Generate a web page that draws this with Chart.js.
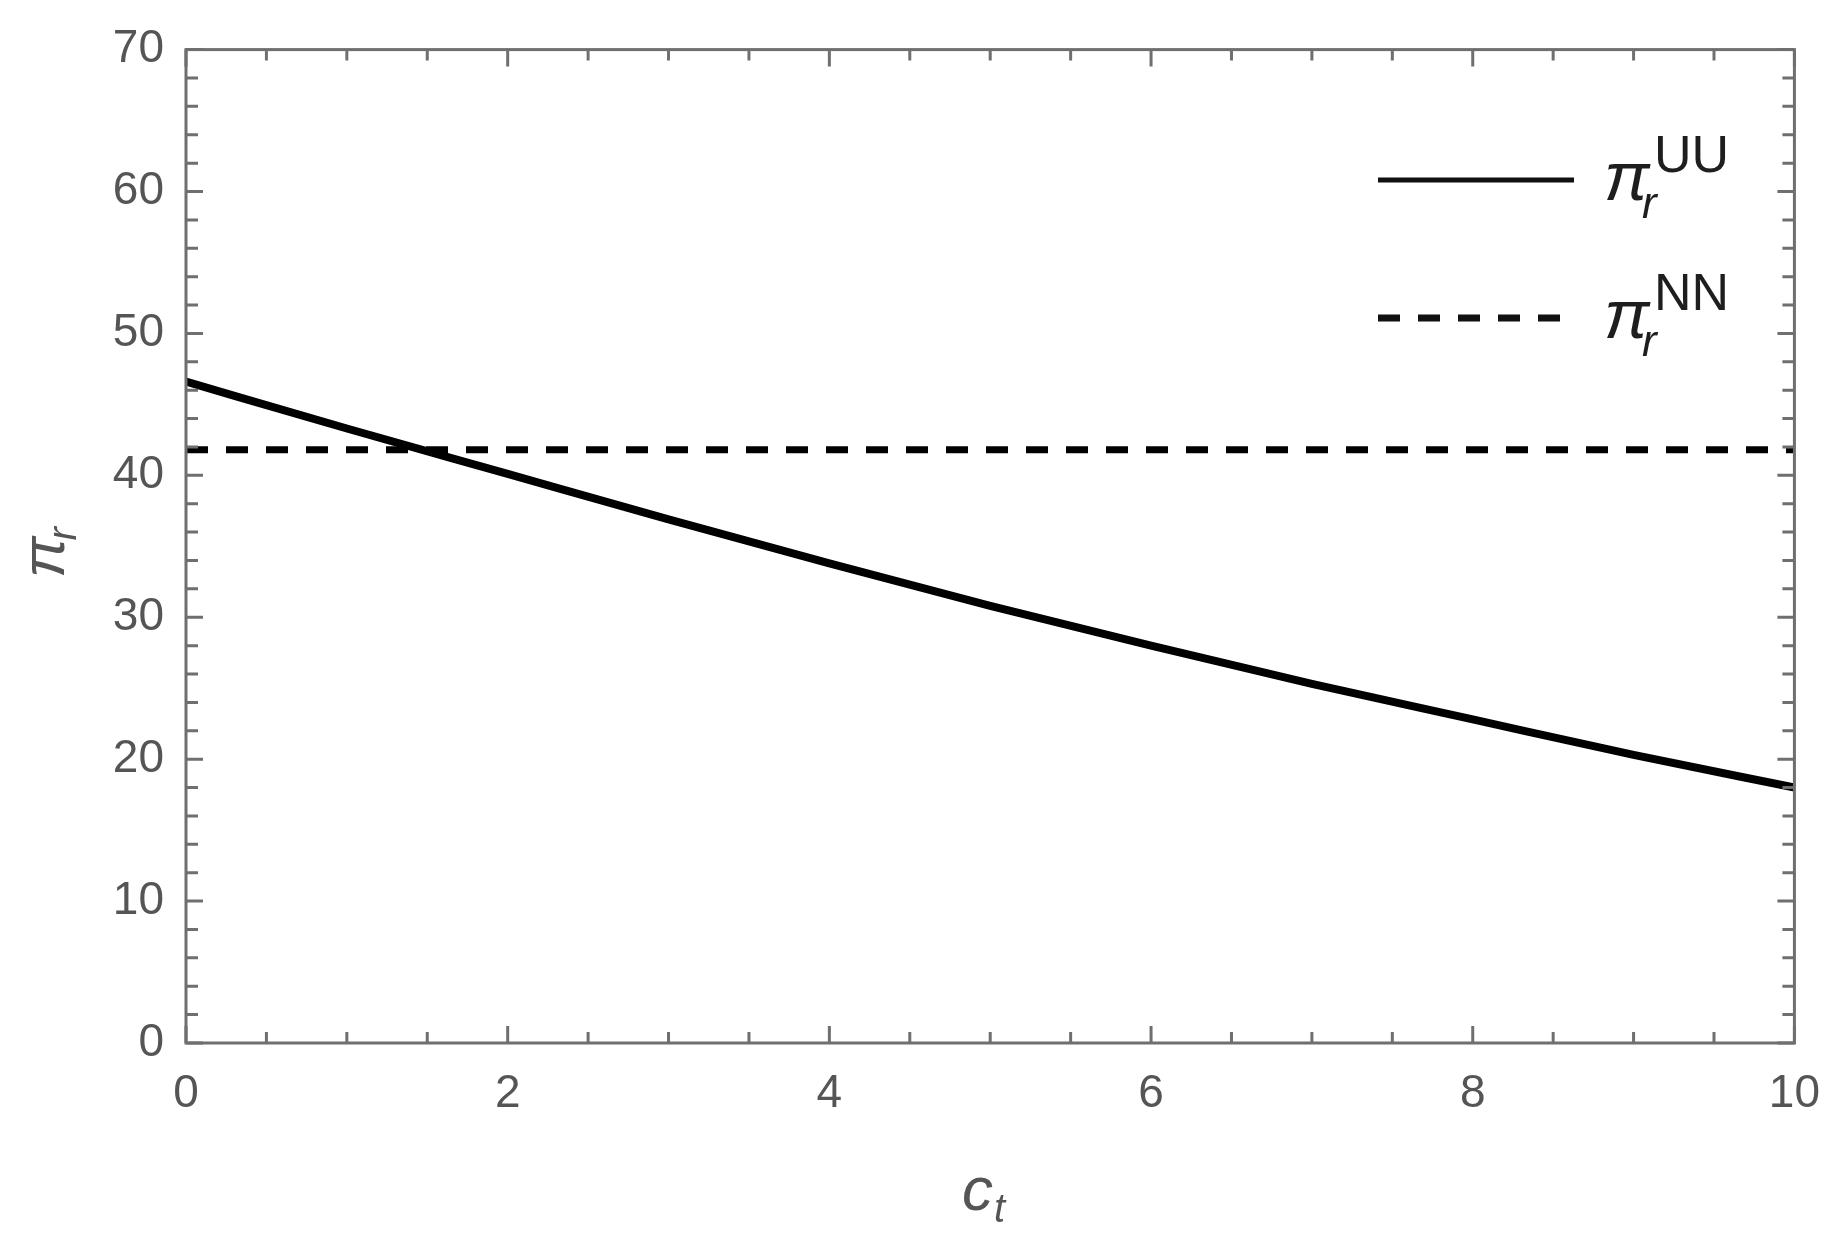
<!DOCTYPE html>
<html>
<head>
<meta charset="utf-8">
<title>pi_r vs c_t</title>
<script src="https://cdn.jsdelivr.net/npm/chart.js@4.4.1/dist/chart.umd.min.js"></script>
<style>
  html, body { margin: 0; padding: 0; background: #ffffff; }
  #wrap { width: 1844px; height: 1244px; }
</style>
</head>
<body>
<div id="wrap"><canvas id="chart" width="1844" height="1244"></canvas></div>
<script>
// Values
const ctValues = [0, 1, 2, 3, 4, 5, 6, 7, 8, 9, 10];
const piUU = [46.6, 43.3, 40.1, 36.9, 33.8, 30.8, 28.0, 25.3, 22.8, 20.3, 18.0];
const ctNN = [0, 10];
const piNN = [41.8, 41.8];
const xTicks = [0, 2, 4, 6, 8, 10];
const yTicks = [0, 10, 20, 30, 40, 50, 60, 70];

const FONT = '"Liberation Sans", Arial, sans-serif';
const TEXT = '#555555';
const FRAME = '#6f6f6f';

// Mathematica-style frame with inward ticks on all four sides
const frameTicks = {
    id: 'frameTicks',
    afterDraw(chart) {
        const { ctx, chartArea: a, scales: { x, y } } = chart;
        ctx.save();
        ctx.strokeStyle = FRAME;
        ctx.lineWidth = 3;
        ctx.strokeRect(a.left, a.top, a.right - a.left, a.bottom - a.top);
        ctx.beginPath();
        for (let i = 0; i <= 20; i++) {
            const v = i * 0.5;
            const px = x.getPixelForValue(v);
            const len = v % 2 === 0 ? 17 : 11;
            ctx.moveTo(px, a.bottom); ctx.lineTo(px, a.bottom - len);
            ctx.moveTo(px, a.top); ctx.lineTo(px, a.top + len);
        }
        for (let v = 0; v <= 70; v += 2) {
            const py = y.getPixelForValue(v);
            const len = v % 10 === 0 ? 17 : 12;
            ctx.moveTo(a.left, py); ctx.lineTo(a.left + len, py);
            ctx.moveTo(a.right, py); ctx.lineTo(a.right - len, py);
        }
        ctx.stroke();
        ctx.restore();
    }
};

// axis titles and legend with sub/superscripts
const mathText = {
    id: 'mathText',
    afterDraw(chart) {
        const { ctx } = chart;
        ctx.save();
        ctx.fillStyle = TEXT;
        ctx.textBaseline = 'alphabetic';

        // x title: c_t
        ctx.font = 'italic 62px ' + FONT;
        ctx.fillText('c', 962, 1210);
        ctx.font = 'italic 40px ' + FONT;
        ctx.fillText('t', 994, 1222);

        // y title: pi_r (rotated)
        ctx.translate(64, 578);
        ctx.rotate(-Math.PI / 2);
        ctx.font = 'italic 62px ' + FONT;
        ctx.fillText('\u03c0', 0, 0);
        const w = ctx.measureText('\u03c0').width;
        ctx.font = 'italic 40px ' + FONT;
        ctx.fillText('r', w - 4, 12);
        ctx.restore();

        // legend
        const entries = [
            { ds: chart.data.datasets[0], sup: 'UU', y: 180 },
            { ds: chart.data.datasets[1], sup: 'NN', y: 318 }
        ];
        ctx.save();
        entries.forEach(e => {
            ctx.strokeStyle = '#111111';
            ctx.lineWidth = e.ds.borderDash ? 7 : 5;
            ctx.setLineDash(e.ds.borderDash || []);
            ctx.beginPath();
            ctx.moveTo(1378, e.y);
            ctx.lineTo(1574, e.y);
            ctx.stroke();
            ctx.setLineDash([]);
            ctx.fillStyle = '#1e1e1e';
            ctx.font = 'italic 68px ' + FONT;
            ctx.fillText('\u03c0', 1604, e.y + 20);
            ctx.font = 'italic 44px ' + FONT;
            ctx.fillText('r', 1642, e.y + 38);
            ctx.font = '52px ' + FONT;
            ctx.fillText(e.sup, 1654, e.y - 8);
        });
        ctx.restore();
    }
};

new Chart(document.getElementById('chart').getContext('2d'), {
    type: 'line',
    data: {
        datasets: [
            {
                label: '\u03c0r UU',
                data: ctValues.map((c, i) => ({ x: c, y: piUU[i] })),
                borderColor: '#000000',
                borderWidth: 8,
                pointRadius: 0,
                cubicInterpolationMode: 'monotone',
                fill: false
            },
            {
                label: '\u03c0r NN',
                data: ctNN.map((c, i) => ({ x: c, y: piNN[i] })),
                borderColor: '#000000',
                borderWidth: 7,
                borderDash: [22, 18],
                pointRadius: 0,
                fill: false
            }
        ]
    },
    options: {
        responsive: false,
        devicePixelRatio: 1,
        animation: false,
        layout: { padding: { left: 0, top: 45, right: 41, bottom: 0 } },
        plugins: {
            legend: { display: false },
            tooltip: { enabled: false }
        },
        scales: {
            x: {
                type: 'linear',
                min: 0,
                max: 10,
                afterFit: s => { s.height = 201; },
                afterBuildTicks: s => { s.ticks = xTicks.map(v => ({ value: v })); },
                grid: { display: false, drawTicks: false },
                border: { display: false },
                ticks: { color: TEXT, padding: 24, font: { family: FONT, size: 46 } }
            },
            y: {
                type: 'linear',
                min: 0,
                max: 70,
                afterFit: s => { s.width = 186; },
                afterBuildTicks: s => { s.ticks = yTicks.map(v => ({ value: v })); },
                grid: { display: false, drawTicks: false },
                border: { display: false },
                ticks: { color: TEXT, padding: 22, font: { family: FONT, size: 46 } }
            }
        }
    },
    plugins: [frameTicks, mathText]
});
</script>
</body>
</html>
